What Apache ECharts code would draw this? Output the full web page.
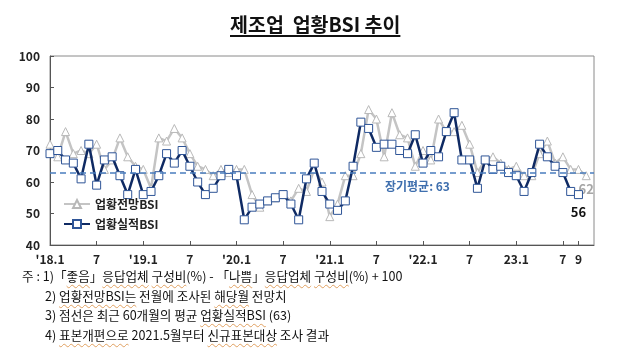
<!DOCTYPE html>
<html>
<head>
<meta charset="utf-8">
<script src="https://cdn.jsdelivr.net/npm/echarts@6/dist/echarts.min.js"></script>
<style>
  body { margin: 0; background: #fff; }
  #wrap { position: relative; width: 640px; height: 351px; overflow: hidden; font-family: "Noto Sans CJK KR", sans-serif; }
  #chart { position: absolute; left: 0; top: 0; width: 640px; height: 351px; }
  .title { position: absolute; top: 9px; left: 230px; font-size: 19.5px; font-weight: bold; color: #111; white-space: nowrap; }
  .title span { text-decoration: underline; text-decoration-thickness: 1.5px; text-underline-offset: 3px; }
  .notes { position: absolute; left: 22px; top: 266px; font-size: 12.6px; color: #111; line-height: 19.7px; }
  .notes div { white-space: nowrap; }
  .w { text-decoration: underline wavy #e0a060; text-decoration-thickness: 1px; text-underline-offset: 3px; }
</style>
</head>
<body>
<div id="wrap">
  <div id="chart"></div>
  <div class="title"><span>제조업&nbsp; 업황BSI 추이</span></div>
  <div class="notes">
    <div>주 : 1)「<span class="w">좋음</span>」<span class="w">응답업체</span> <span class="w">구성비</span>(%) - 「<span class="w">나쁨</span>」<span class="w">응답업체</span> <span class="w">구성비</span>(%) + 100</div>
    <div style="padding-left:23px">2) <span class="w">업황전망BSI는</span> 전월에 조사된 <span class="w">해당월</span> 전망치</div>
    <div style="padding-left:23px">3) 점선은 최근 60개월의 평균 <span class="w">업황실적BSI</span> (63)</div>
    <div style="padding-left:23px">4) <span class="w">표본개편으로</span> 2021.5월부터 <span class="w">신규표본대상</span> 조사 결과</div>
  </div>
</div>
<script>
  // 월별 카테고리 (2018.1 ~ 2023.11, 마지막 칸은 여백)
  const months = [];
  for (let y = 2018; y <= 2023; y++) {
    for (let m = 1; m <= 12; m++) {
      if (y === 2023 && m > 11) break;
      months.push(y + '.' + m);
    }
  }
  const tickIdx = [0, 6, 12, 18, 24, 30, 36, 42, 48, 54, 60, 66, 68];
  const tickLabels = ["'18.1", '7', "'19.1", '7', "'20.1", '7', "'21.1", '7', "'22.1", '7', '23.1', '7', '9'];

  // 업황실적BSI
  const actual = [69, 70, 67, 66, 61, 72, 59, 67, 68, 62, 56, 64,
                  56, 57, 62, 69, 66, 70, 65, 60, 56, 58, 62, 64,
                  62, 48, 52, 53, 54, 55, 56, 53, 48, 61, 66, 57,
                  53, 51, 54, 65, 79, 77, 71, 72, 72, 70, 69, 75,
                  66, 70, 68, 76, 82, 67, 67, 58, 67, 64, 65, 63,
                  62, 57, 63, 72, 68, 65, 63, 57, 56];
  // 업황전망BSI
  const forecast = [72, 68, 76, 69, 70, 69, 72, 64, 67, 74, 68, 65,
                    64, 58, 74, 73, 77, 74, 69, 65, 64, 62, 64, 63,
                    64, 64, 56, 52, 54, 55, 56, 54, 58, 57, 64, 60,
                    49, 53, 62, 62, 69, 83, 80, 68, 82, 75, 74, 65,
                    70, 67, 80, 76, 76, 78, 72, 63, 67, 68, 66, 64,
                    65, 62, 62, 69, 73, 66, 68, 64, 64, 62];
  const avgLine = 63;

  const chart = echarts.init(document.getElementById('chart'));
  const font = '"Noto Sans CJK KR", sans-serif';

  const lastLabel = (arr, opts) => arr.map((v, i) => i === arr.length - 1
    ? { value: v, label: Object.assign({ show: true, formatter: String(v), fontFamily: font, fontWeight: 'bold', fontSize: 13 }, opts) }
    : v);

  chart.setOption({
    animation: false,
    grid: { left: 50, right: 46, top: 56, bottom: 106, show: true, borderColor: '#8a8a8a', borderWidth: 1 },
    legend: {
      orient: 'vertical', left: 58, top: 193, itemGap: 8, itemWidth: 26, itemHeight: 10,
      textStyle: { fontFamily: font, fontSize: 12, fontWeight: 'bold', color: '#222' },
      data: ['업황전망BSI', '업황실적BSI']
    },
    xAxis: {
      type: 'category', data: months, boundaryGap: false,
      axisLine: { lineStyle: { color: '#555', width: 1 } },
      axisTick: { inside: true, length: 4, interval: (i) => tickIdx.includes(i), lineStyle: { color: '#555' } },
      axisLabel: {
        interval: (i) => tickIdx.includes(i),
        formatter: (v, i) => tickLabels[tickIdx.indexOf(i)],
        fontFamily: font, fontSize: 12, fontWeight: 'bold', color: '#222', margin: 8
      }
    },
    yAxis: {
      type: 'value', min: 40, max: 100, interval: 10,
      axisLine: { show: true, lineStyle: { color: '#555', width: 1 } },
      axisTick: { show: true, inside: true, length: 4, lineStyle: { color: '#555' } },
      splitLine: { show: false },
      axisLabel: { fontFamily: font, fontSize: 12, fontWeight: 'bold', color: '#222', margin: 10 }
    },
    graphic: [{
      type: 'text', left: 385, top: 180,
      style: { text: '장기평균: 63', fill: '#3f6fae', font: 'bold 12px "Noto Sans CJK KR", sans-serif' }
    }],
    series: [
      {
        name: '업황전망BSI', type: 'line', data: lastLabel(forecast, { position: 'bottom', distance: 2, offset: [4, 0], color: '#a6a6a6' }),
        symbol: 'triangle', symbolSize: 8, showSymbol: true, showAllSymbol: true, clip: false,
        lineStyle: { color: '#c4c4c4', width: 2.5 },
        itemStyle: { color: '#fff', borderColor: '#b8b8b8', borderWidth: 1 },
        labelLayout: { hideOverlap: false },
        z: 2
      },
      {
        name: '업황실적BSI', type: 'line', data: lastLabel(actual, { position: 'bottom', distance: 6, color: '#111' }),
        symbol: 'rect', symbolSize: 8, showSymbol: true, showAllSymbol: true, clip: false,
        lineStyle: { color: '#0f2a63', width: 2.5 },
        itemStyle: { color: '#fff', borderColor: '#2f5597', borderWidth: 1 },
        z: 3,
        markLine: {
          silent: true, symbol: 'none', label: { show: false },
          lineStyle: { color: '#4a7dbf', type: [6, 4], width: 1.5 },
          data: [{ yAxis: avgLine }]
        }
      }
    ]
  });
</script>
</body>
</html>
